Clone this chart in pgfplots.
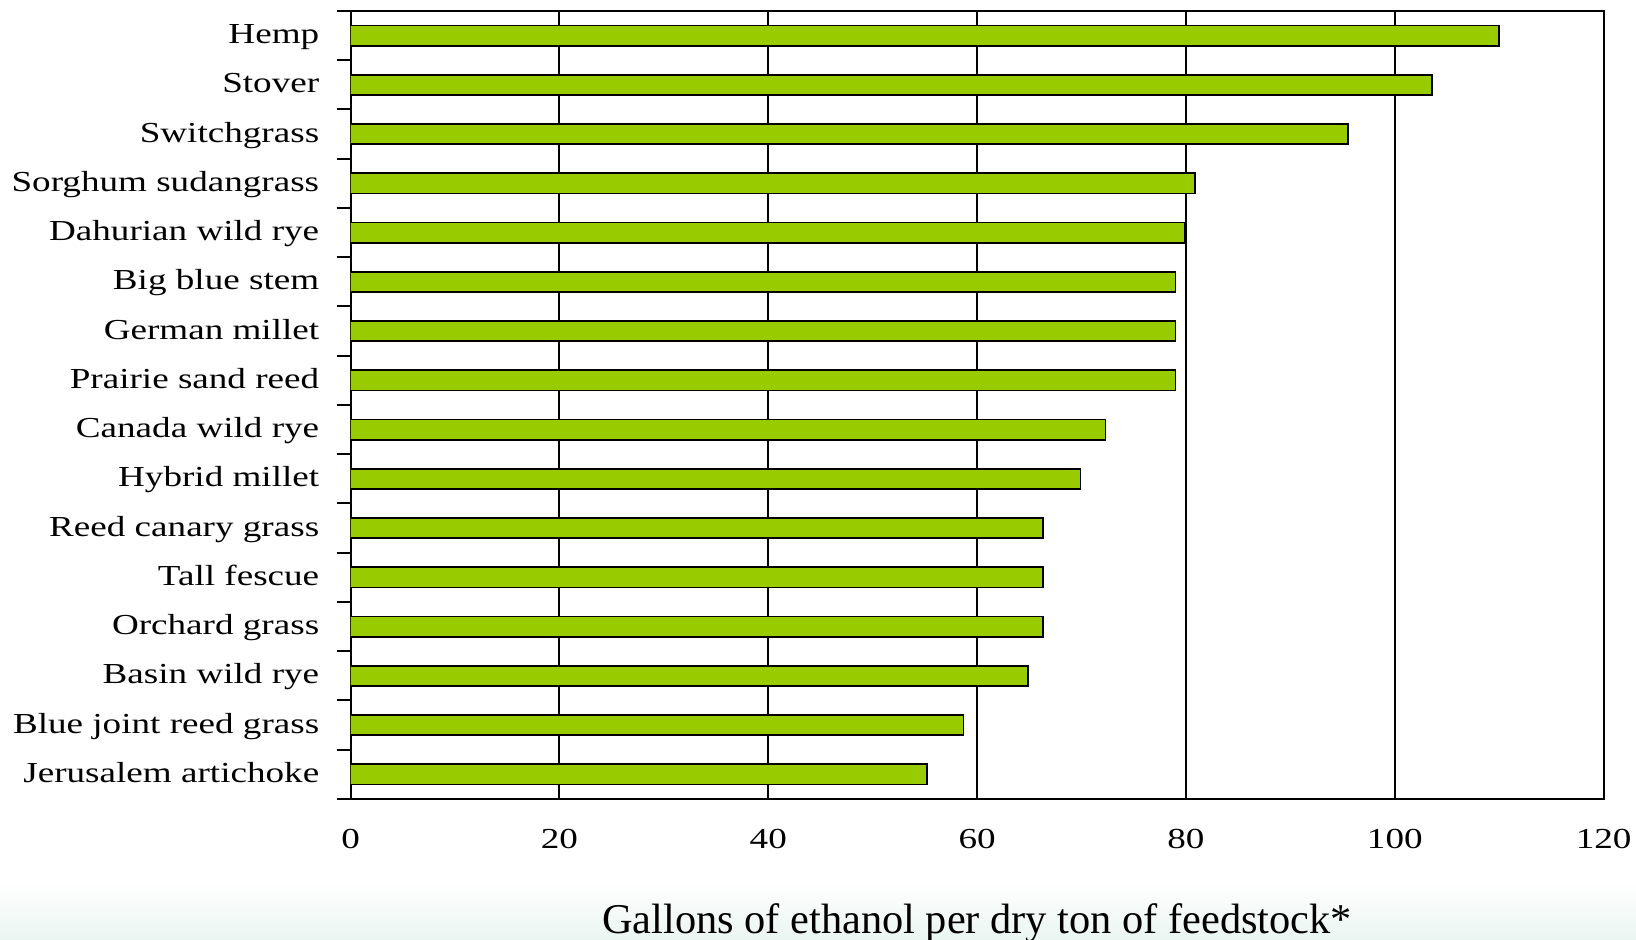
\documentclass[border=0pt]{standalone}
\usepackage{pgfplots}
\pgfplotsset{compat=1.18}
\usepackage{fontspec}
\setmainfont{Liberation Serif}
\newfontfamily\labelfont{Liberation Serif}[FakeStretch=1.28]
\definecolor{bargreen}{HTML}{99CC00}
\definecolor{mint}{RGB}{234,245,241}
\begin{document}
\begin{tikzpicture}
\useasboundingbox (-175.3pt,-70.5pt) rectangle (642.7pt,399.5pt);
\shade[top color=white, bottom color=mint] (-175.3pt,-42pt) rectangle (642.7pt,-70.5pt);
\begin{axis}[
  at={(0,0)}, anchor=south west,
  scale only axis, width=626.5pt, height=394pt,
  xbar, xmin=0, xmax=120, ymin=0.5, ymax=16.5,
  xtick={0,20,40,60,80,100,120},
  xticklabels={0,20,40,60,80,100,120},
  ytick={1,...,16},
  yticklabels={Jerusalem artichoke, Blue joint reed grass, Basin wild rye, Orchard grass, Tall fescue, Reed canary grass, Hybrid millet, Canada wild rye, Prairie sand reed, German millet, Big blue stem, Dahurian wild rye, Sorghum sudangrass, Switchgrass, Stover, Hemp},
  minor ytick={0.5,1.5,...,16.5},
  xmajorgrids,
  major grid style={black, line width=1pt},
  axis line style={black, line width=1pt},
  tick style={black, line width=1pt},
  major tick length=0pt, minor tick length=7pt,
  tick align=outside, tick pos=left,
  xticklabel style={font=\labelfont\fontsize{14.5}{17}\selectfont, anchor=base, inner sep=0pt, yshift=-25pt},
  yticklabel style={font=\labelfont\fontsize{14.5}{17}\selectfont, anchor=base east, inner sep=0pt, xshift=-15.5pt, yshift=-4pt},
  xlabel={Gallons of ethanol per dry ton of feedstock*},
  xlabel style={font=\fontsize{21.2}{25}\selectfont, at={(axis description cs:0.5,0)}, anchor=base, inner sep=0pt, yshift=-67pt},
]
\addplot[fill=bargreen, draw=black, line width=0.9pt, bar width=0.41] coordinates {
  (55.2,1) (58.7,2) (64.9,3) (66.3,4) (66.3,5) (66.3,6) (69.9,7) (72.3,8)
  (79.0,9) (79.0,10) (79.0,11) (79.9,12) (80.9,13) (95.5,14) (103.6,15) (110.0,16)
};
\end{axis}
\end{tikzpicture}
\end{document}
